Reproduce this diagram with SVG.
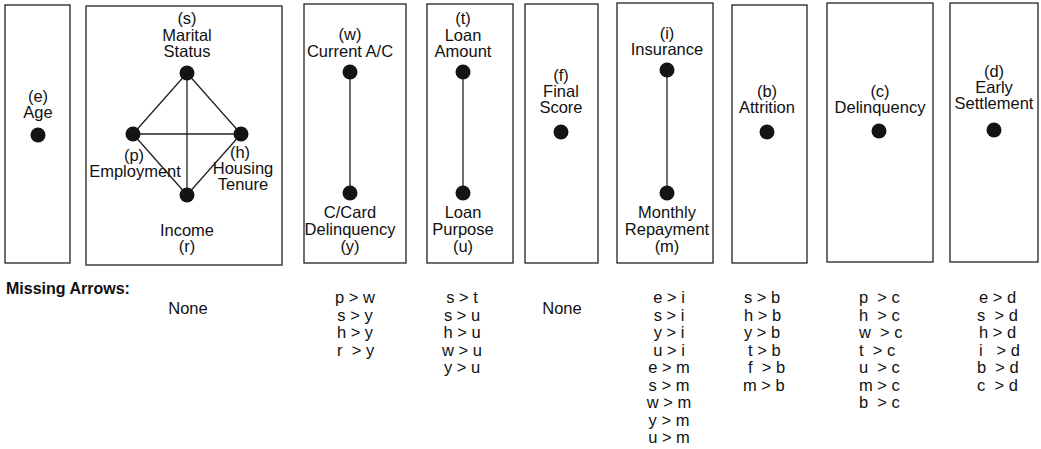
<svg xmlns="http://www.w3.org/2000/svg" width="1041" height="449" viewBox="0 0 1041 449">
<style>
.box{fill:#fff;stroke:#222;stroke-width:1.3}
.dot{fill:#141414}
.edge{stroke:#222;stroke-width:1.3;fill:none}
text{font-family:"Liberation Sans",Arial,Helvetica,sans-serif;font-size:16.5px;fill:#111}
.c{text-anchor:middle}
.l{text-anchor:start;white-space:pre}
.h{font-weight:bold;font-size:16px}
</style>
<rect width="1041" height="449" fill="#fff"/>
<g id="box-age">
<rect class="box" x="5" y="5" width="65" height="258"/>
<text class="c" x="38" y="102">(e)</text>
<text class="c" x="38" y="118">Age</text>
</g>
<g id="box-personal">
<rect class="box" x="86" y="6" width="196" height="259"/>
<text class="c" x="187" y="24">(s)</text>
<text class="c" x="187" y="41">Marital</text>
<text class="c" x="187" y="57">Status</text>
<text class="c" x="134" y="161">(p)</text>
<text class="c" x="135" y="177">Employment</text>
<text class="c" x="240" y="158">(h)</text>
<text class="c" x="243" y="174">Housing</text>
<text class="c" x="243" y="190">Tenure</text>
<text class="c" x="187" y="236">Income</text>
<text class="c" x="187" y="252">(r)</text>
</g>
<g id="box-account">
<rect class="box" x="304" y="4" width="102" height="259"/>
<text class="c" x="350" y="40">(w)</text>
<text class="c" x="350" y="57">Current A/C</text>
<text class="c" x="350" y="218">C/Card</text>
<text class="c" x="350" y="235">Delinquency</text>
<text class="c" x="350" y="252">(y)</text>
</g>
<g id="box-loan">
<rect class="box" x="427" y="4" width="86" height="259"/>
<text class="c" x="463" y="24">(t)</text>
<text class="c" x="463" y="41">Loan</text>
<text class="c" x="463" y="57">Amount</text>
<text class="c" x="463" y="218">Loan</text>
<text class="c" x="463" y="235">Purpose</text>
<text class="c" x="463" y="252">(u)</text>
</g>
<g id="box-score">
<rect class="box" x="525" y="4" width="73" height="259"/>
<text class="c" x="561" y="81">(f)</text>
<text class="c" x="561" y="97">Final</text>
<text class="c" x="561" y="113">Score</text>
</g>
<g id="box-insurance">
<rect class="box" x="617" y="3" width="96" height="260"/>
<text class="c" x="667" y="39">(i)</text>
<text class="c" x="667" y="55">Insurance</text>
<text class="c" x="667" y="218">Monthly</text>
<text class="c" x="667" y="235">Repayment</text>
<text class="c" x="667" y="252">(m)</text>
</g>
<g id="box-attrition">
<rect class="box" x="732" y="5" width="75" height="258"/>
<text class="c" x="767" y="97">(b)</text>
<text class="c" x="767" y="113">Attrition</text>
</g>
<g id="box-delinquency">
<rect class="box" x="827" y="3" width="106" height="259"/>
<text class="c" x="880" y="97">(c)</text>
<text class="c" x="880" y="113">Delinquency</text>
</g>
<g id="box-settlement">
<rect class="box" x="950" y="3" width="88" height="259"/>
<text class="c" x="994" y="77">(d)</text>
<text class="c" x="994" y="93">Early</text>
<text class="c" x="994" y="109">Settlement</text>
</g>
<g id="connectors">
<line class="edge" x1="187" y1="73" x2="133" y2="134"/>
<line class="edge" x1="187" y1="73" x2="241" y2="134"/>
<line class="edge" x1="187" y1="73" x2="187" y2="195"/>
<line class="edge" x1="133" y1="134" x2="241" y2="134"/>
<line class="edge" x1="133" y1="134" x2="187" y2="195"/>
<line class="edge" x1="241" y1="134" x2="187" y2="195"/>
<line class="edge" x1="350" y1="72" x2="350" y2="193"/>
<line class="edge" x1="463" y1="72" x2="463" y2="193"/>
<line class="edge" x1="667" y1="70" x2="667" y2="193"/>
</g>
<g id="nodes">
<circle id="node-e" class="dot" cx="38" cy="135" r="7.5"/>
<circle id="node-s" class="dot" cx="187" cy="73" r="7.5"/>
<circle id="node-p" class="dot" cx="133" cy="134" r="7.5"/>
<circle id="node-h" class="dot" cx="241" cy="134" r="7.5"/>
<circle id="node-r" class="dot" cx="187" cy="195" r="7.5"/>
<circle id="node-w" class="dot" cx="350" cy="72" r="7.5"/>
<circle id="node-y" class="dot" cx="350" cy="193" r="7.5"/>
<circle id="node-t" class="dot" cx="463" cy="72" r="7.5"/>
<circle id="node-u" class="dot" cx="463" cy="193" r="7.5"/>
<circle id="node-f" class="dot" cx="561" cy="132" r="7.5"/>
<circle id="node-i" class="dot" cx="667" cy="70" r="7.5"/>
<circle id="node-m" class="dot" cx="667" cy="193" r="7.5"/>
<circle id="node-b" class="dot" cx="767" cy="132" r="7.5"/>
<circle id="node-c" class="dot" cx="879" cy="131" r="7.5"/>
<circle id="node-d" class="dot" cx="994" cy="130" r="7.5"/>
</g>
<g id="missing-arrows">
<text class="h" x="6" y="294">Missing Arrows:</text>
<text class="c" x="188" y="314">None</text>
<text class="c" x="355" y="303">p &gt; w</text>
<text class="c" x="355" y="320.5">s &gt; y</text>
<text class="c" x="355" y="338">h &gt; y</text>
<text class="l" x="337" y="355.5">r  &gt; y</text>
<text class="c" x="462" y="303">s &gt; t</text>
<text class="c" x="462" y="320.5">s &gt; u</text>
<text class="c" x="462" y="338">h &gt; u</text>
<text class="c" x="462" y="355.5">w &gt; u</text>
<text class="c" x="462" y="373">y &gt; u</text>
<text class="c" x="562" y="314">None</text>
<text class="c" x="669" y="303">e &gt; i</text>
<text class="c" x="669" y="320.5">s &gt; i</text>
<text class="c" x="669" y="338">y &gt; i</text>
<text class="c" x="669" y="355.5">u &gt; i</text>
<text class="c" x="669" y="373">e &gt; m</text>
<text class="c" x="669" y="390.5">s &gt; m</text>
<text class="c" x="669" y="408">w &gt; m</text>
<text class="c" x="669" y="425.5">y &gt; m</text>
<text class="c" x="669" y="443">u &gt; m</text>
<text class="l" x="744" y="303">s &gt; b</text>
<text class="l" x="744" y="320.5">h &gt; b</text>
<text class="l" x="744" y="338">y &gt; b</text>
<text class="l" x="748" y="355.5">t &gt; b</text>
<text class="l" x="748" y="373">f  &gt; b</text>
<text class="l" x="743" y="390.5">m &gt; b</text>
<text class="l" x="859" y="303">p  &gt; c</text>
<text class="l" x="859" y="320.5">h  &gt; c</text>
<text class="l" x="859" y="338">w  &gt; c</text>
<text class="l" x="859" y="355.5">t  &gt; c</text>
<text class="l" x="859" y="373">u  &gt; c</text>
<text class="l" x="859" y="390.5">m &gt; c</text>
<text class="l" x="859" y="408">b  &gt; c</text>
<text class="l" x="979" y="303">e &gt; d</text>
<text class="l" x="977" y="320.5">s  &gt; d</text>
<text class="l" x="979" y="338">h &gt; d</text>
<text class="l" x="979" y="355.5">i   &gt; d</text>
<text class="l" x="977" y="373">b  &gt; d</text>
<text class="l" x="977" y="390.5">c  &gt; d</text>
</g>
</svg>
